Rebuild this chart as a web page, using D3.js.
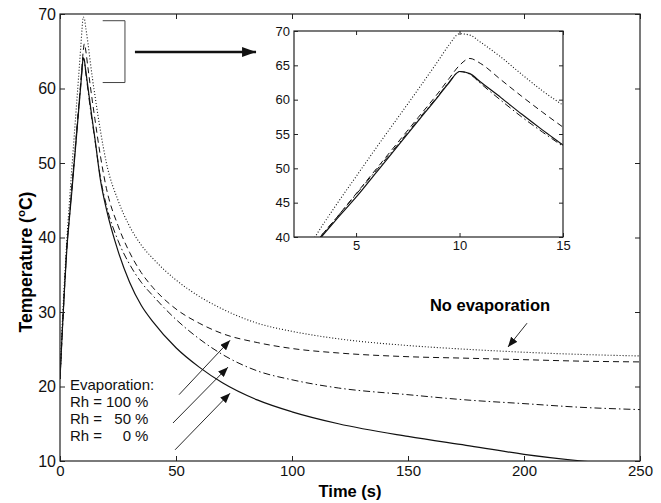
<!DOCTYPE html>
<html>
<head>
<meta charset="utf-8">
<script src="https://cdn.jsdelivr.net/npm/d3@7"></script>
<style>
  body { margin: 0; background: #fff; }
  svg { display: block; font-family: "Liberation Sans", Arial, sans-serif; }
  .axis path { display: none; }
  .axis line { stroke: #222; }
  .axis text { fill: #111; }
</style>
</head>
<body>
<div id="chart"></div>
<script>
// time (s) and temperature (degC)
var times = [0, 1, 2, 3, 4, 5, 6, 7, 8, 9, 9.5, 10, 10.5, 11, 12, 13, 14, 15, 17.5, 20, 25, 30, 35, 40,
             50, 60, 70, 85, 100, 120, 150, 175, 200, 225, 250];
var noEvap = [21, 28.5, 34.5, 39.9, 44.5, 48.8, 53.1, 57.3, 61.5, 65.8, 68.0, 69.6, 69.4, 68.4, 66.2, 63.7, 61.3, 59.2,
              54.2, 50.0, 45.0, 41.5, 39.0, 37.2, 34.3, 32.1, 30.4, 28.5, 27.4, 26.4, 25.5, 25.0, 24.6, 24.3, 24.1];
var rh100 = [21, 27.5, 33.5, 38.9, 42.6, 46.3, 50.0, 53.7, 57.4, 61.1, 63.1, 65.0, 66.0, 65.3, 62.9, 60.5, 58.2, 56.0,
             50.8, 46.6, 41.6, 38.0, 35.3, 33.3, 30.4, 28.5, 27.1, 25.9, 25.1, 24.5, 24.0, 23.8, 23.6, 23.4, 23.3];
var rh50 = [21, 27.5, 33.5, 38.9, 42.6, 46.2, 49.8, 53.4, 57.1, 60.7, 62.6, 64.1, 63.7, 62.4, 59.9, 57.5, 55.3, 53.2,
            47.9, 44.3, 39.6, 36.4, 34.0, 32.2, 29.0, 26.4, 24.3, 22.1, 20.9, 19.8, 18.9, 18.2, 17.7, 17.2, 16.9];
var rh0 = [21, 27.5, 33.5, 38.7, 42.4, 45.8, 49.5, 53.2, 56.9, 60.6, 62.5, 64.1, 63.8, 62.6, 60.3, 57.9, 55.6, 53.4,
           47.6, 43.8, 38.2, 34.0, 30.9, 28.7, 25.2, 22.6, 20.5, 18.2, 16.6, 15.0, 13.3, 12.1, 10.9, 10.0, 9.3];

var xTicks = [0, 50, 100, 150, 200, 250];
var yTicks = [10, 20, 30, 40, 50, 60, 70];
var insetXTicks = [5, 10, 15];
var insetYTicks = [40, 45, 50, 55, 60, 65, 70];

var legendLines = ["100", "50", "0"];

// annotation arrows, in data units [t, T]
var legendArrows = [
  [[51.3, 18.9], [73.3, 26.2]],
  [[48.7, 15.1], [72.4, 22.6]],
  [[49.6, 11.5], [73.3, 19.1]]
];
var noEvapArrow = [[201.3, 28.5], [193.1, 25.3]];
var bracket = {t0: 18.4, t1: 28, T0: 60.8, T1: 69.1};
var zoomArrow = [[32.3, 64.9], [84.5, 64.9]];

var series = [
  {name: 'noEvap', values: noEvap, dash: '1,2', width: 1.1},
  {name: 'rh100', values: rh100, dash: '6,4', width: 1},
  {name: 'rh50', values: rh50, dash: '7,3,1.5,3', width: 1},
  {name: 'rh0', values: rh0, dash: null, width: 1.2}
];

var width = 661, height = 503;
var svg = d3.select('#chart').append('svg')
    .attr('width', width)
    .attr('height', height);

var defs = svg.append('defs');
defs.append('marker')
    .attr('id', 'head')
    .attr('viewBox', '0 -4 10 8')
    .attr('refX', 10).attr('refY', 0)
    .attr('markerUnits', 'userSpaceOnUse')
    .attr('markerWidth', 10).attr('markerHeight', 8)
    .attr('orient', 'auto')
  .append('path')
    .attr('d', 'M0,-4 L10,0 L0,4 Z')
    .attr('fill', '#111');
defs.append('marker')
    .attr('id', 'bighead')
    .attr('viewBox', '0 -5 14 10')
    .attr('refX', 14).attr('refY', 0)
    .attr('markerUnits', 'userSpaceOnUse')
    .attr('markerWidth', 14).attr('markerHeight', 10)
    .attr('orient', 'auto')
  .append('path')
    .attr('d', 'M0,-5 L14,0 L0,5 Z')
    .attr('fill', '#111');

// ---- main plot ----
var x = d3.scaleLinear().domain([0, 250]).range([60, 640]);
var y = d3.scaleLinear().domain([10, 70]).range([461, 14]);

defs.append('clipPath').attr('id', 'mainClip')
  .append('rect')
    .attr('x', x(0)).attr('y', y(70))
    .attr('width', x(250) - x(0)).attr('height', y(10) - y(70));

var main = svg.append('g');

function addAxes(g, xs, ys, xt, yt, tick, xFont, yFont, pad) {
  var x0 = xs.range()[0], x1 = xs.range()[1], y0 = ys.range()[0], y1 = ys.range()[1];
  g.append('g').attr('class', 'axis')
      .attr('transform', 'translate(0,' + y0 + ')')
      .call(d3.axisBottom(xs).tickValues(xt).tickSizeInner(-tick).tickSizeOuter(0).tickPadding(pad))
      .selectAll('text').attr('font-size', xFont);
  g.append('g').attr('class', 'axis')
      .attr('transform', 'translate(' + x0 + ',0)')
      .call(d3.axisLeft(ys).tickValues(yt).tickSizeInner(-tick).tickSizeOuter(0).tickPadding(pad))
      .selectAll('text').attr('font-size', yFont);
  g.append('g').attr('class', 'axis')
      .attr('transform', 'translate(0,' + y1 + ')')
      .call(d3.axisTop(xs).tickValues(xt).tickSizeInner(-tick).tickSizeOuter(0).tickFormat(''));
  g.append('g').attr('class', 'axis')
      .attr('transform', 'translate(' + x1 + ',0)')
      .call(d3.axisRight(ys).tickValues(yt).tickSizeInner(-tick).tickSizeOuter(0).tickFormat(''));
  g.append('rect')
      .attr('x', x0).attr('y', y1)
      .attr('width', x1 - x0).attr('height', y0 - y1)
      .attr('fill', 'none')
      .attr('stroke', '#222')
      .attr('stroke-width', 1.2);
}

function drawSeries(g, xs, ys, clipId) {
  var line = d3.line()
      .x(function(d) { return xs(d[0]); })
      .y(function(d) { return ys(d[1]); })
      .curve(d3.curveMonotoneX);
  g.append('g').attr('clip-path', 'url(#' + clipId + ')')
    .selectAll('path')
    .data(series).enter().append('path')
      .attr('d', function(s) { return line(times.map(function(t, i) { return [t, s.values[i]]; })); })
      .attr('fill', 'none')
      .attr('stroke', '#111')
      .attr('stroke-width', function(s) { return s.width; })
      .attr('stroke-dasharray', function(s) { return s.dash; });
}

drawSeries(main, x, y, 'mainClip');
addAxes(main, x, y, xTicks, yTicks, 5, '15px', '16px', 4);

// axis titles
main.append('text')
    .attr('x', 350).attr('y', 497)
    .attr('text-anchor', 'middle')
    .attr('font-size', '16.5px')
    .attr('font-weight', 'bold')
    .text('Time (s)');

var yl = main.append('text')
    .attr('transform', 'translate(32,262) rotate(-90)')
    .attr('text-anchor', 'middle')
    .attr('font-size', '17.5px')
    .attr('font-weight', 'bold');
yl.append('tspan').text('Temperature (');
yl.append('tspan').attr('font-size', '11.5px').attr('dy', -7).text('o');
yl.append('tspan').attr('dy', 7).text('C)');

// legend text
var leg = main.append('g').attr('font-size', '15px').attr('fill', '#111');
leg.append('text').attr('x', 70).attr('y', 390).text('Evaporation:');
legendLines.forEach(function(v, i) {
  var by = 407 + i * 17;
  leg.append('text').attr('x', 70).attr('y', by).text('Rh =');
  leg.append('text').attr('x', 131).attr('y', by).attr('text-anchor', 'end').text(v);
  leg.append('text').attr('x', 135).attr('y', by).text('%');
});

main.selectAll('.legarrow')
  .data(legendArrows).enter().append('line')
    .attr('class', 'legarrow')
    .attr('x1', function(d) { return x(d[0][0]); })
    .attr('y1', function(d) { return y(d[0][1]); })
    .attr('x2', function(d) { return x(d[1][0]); })
    .attr('y2', function(d) { return y(d[1][1]); })
    .attr('stroke', '#111')
    .attr('stroke-width', 0.9)
    .attr('marker-end', 'url(#head)');

main.append('text')
    .attr('x', 490).attr('y', 311)
    .attr('text-anchor', 'middle')
    .attr('font-size', '16.5px')
    .attr('font-weight', 'bold')
    .text('No evaporation');
main.append('line')
    .attr('x1', x(noEvapArrow[0][0])).attr('y1', y(noEvapArrow[0][1]))
    .attr('x2', x(noEvapArrow[1][0])).attr('y2', y(noEvapArrow[1][1]))
    .attr('stroke', '#111')
    .attr('stroke-width', 0.9)
    .attr('marker-end', 'url(#head)');

// bracket and zoom arrow
main.append('path')
    .attr('d', 'M' + x(bracket.t0) + ',' + y(bracket.T1) +
               'H' + x(bracket.t1) + 'V' + y(bracket.T0) + 'H' + x(bracket.t0))
    .attr('fill', 'none')
    .attr('stroke', '#444')
    .attr('stroke-width', 1);
main.append('line')
    .attr('x1', x(zoomArrow[0][0])).attr('y1', y(zoomArrow[0][1]))
    .attr('x2', x(zoomArrow[1][0])).attr('y2', y(zoomArrow[1][1]))
    .attr('stroke', '#111')
    .attr('stroke-width', 2.5)
    .attr('marker-end', 'url(#bighead)');

// ---- inset ----
var ix = d3.scaleLinear().domain([2, 15]).range([294, 563]);
var iy = d3.scaleLinear().domain([40, 70]).range([237, 31]);

defs.append('clipPath').attr('id', 'insetClip')
  .append('rect')
    .attr('x', ix(2)).attr('y', iy(70))
    .attr('width', ix(15) - ix(2)).attr('height', iy(40) - iy(70));

var inset = svg.append('g');
inset.append('rect')
    .attr('x', ix(2)).attr('y', iy(70))
    .attr('width', ix(15) - ix(2)).attr('height', iy(40) - iy(70))
    .attr('fill', '#fff');
drawSeries(inset, ix, iy, 'insetClip');
addAxes(inset, ix, iy, insetXTicks, insetYTicks, 4, '13px', '13px', 4);
</script>
</body>
</html>
